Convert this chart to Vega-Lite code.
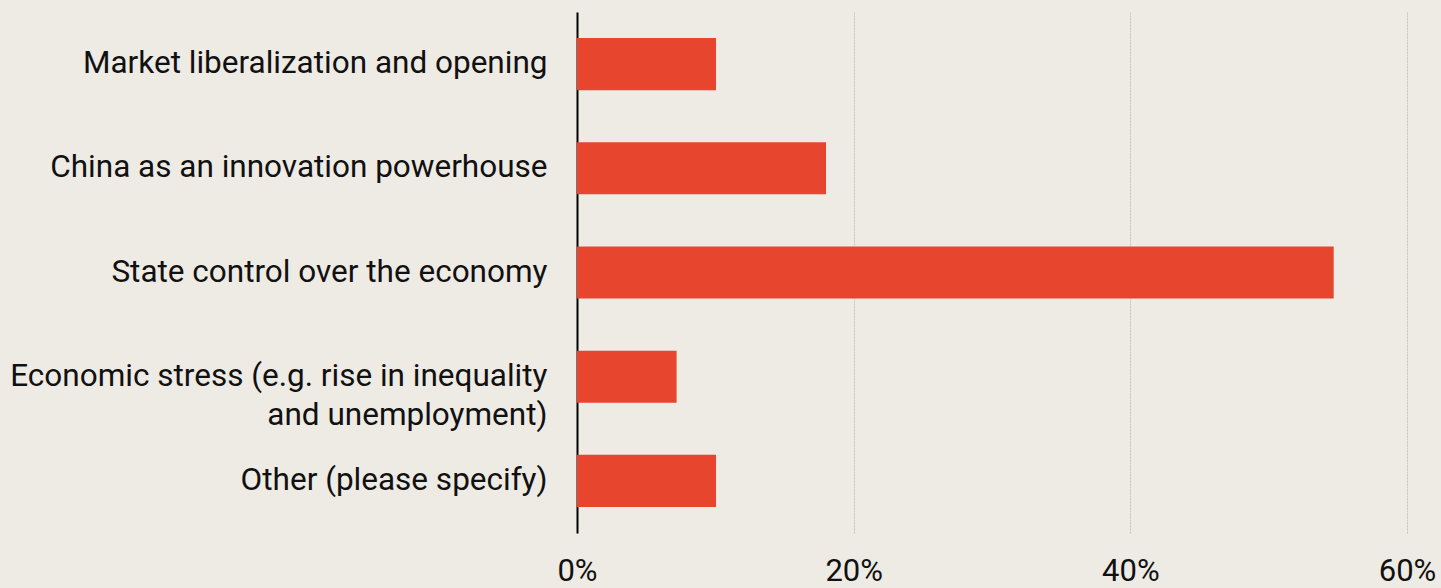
{
  "$schema": "https://vega.github.io/schema/vega-lite/v6.json",
  "width": 830,
  "height": 521,
  "autosize": {"type": "none"},
  "padding": {"left": 577, "top": 12, "right": 34, "bottom": 55},
  "background": "#EEEAE4",
  "config": {
    "view": {"stroke": null},
    "font": "Roboto"
  },
  "data": {
    "values": [
      {"category": "Market liberalization and opening", "share": 0.1005},
      {"category": "China as an innovation powerhouse", "share": 0.18},
      {"category": "State control over the economy", "share": 0.547},
      {"category": "Economic stress (e.g. rise in inequality and unemployment)", "share": 0.072},
      {"category": "Other (please specify)", "share": 0.1005}
    ]
  },
  "mark": {"type": "bar", "color": "#E8452F"},
  "encoding": {
    "y": {
      "field": "category",
      "type": "nominal",
      "sort": null,
      "scale": {"paddingInner": 0.5, "paddingOuter": 0.25},
      "axis": {
        "title": null,
        "ticks": false,
        "domain": true,
        "domainColor": "#000000",
        "domainWidth": 2,
        "labelFont": "Roboto",
        "labelFontSize": 31.5,
        "labelColor": "#111111",
        "labelPadding": 30,
        "labelLimit": 1000,
        "labelLineHeight": 39,
        "labelExpr": "datum.label == 'Economic stress (e.g. rise in inequality and unemployment)' ? ['Economic stress (e.g. rise in inequality', 'and unemployment)'] : datum.label"
      }
    },
    "x": {
      "field": "share",
      "type": "quantitative",
      "scale": {"domain": [0, 0.6], "nice": false},
      "axis": {
        "title": null,
        "values": [0, 0.2, 0.4, 0.6],
        "format": ".0%",
        "ticks": false,
        "domain": false,
        "grid": true,
        "gridColor": "#C4C4C4",
        "gridDash": [2, 1],
        "gridWidth": 1,
        "labelFont": "Roboto",
        "labelFontSize": 31,
        "labelColor": "#111111",
        "labelPadding": 23,
        "labelFlush": false
      }
    }
  }
}
